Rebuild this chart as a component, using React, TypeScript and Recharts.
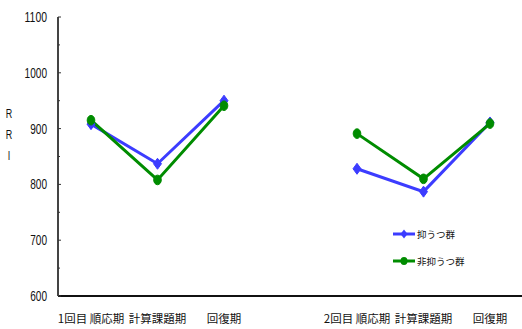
import React from "react";
import { LineChart, Line, XAxis, YAxis } from "recharts";

// Phases of the two sessions; the empty slot separates session 1 from session 2
const categories = ["1回目 順応期", "計算課題期", "回復期", "", "2回目 順応期", "計算課題期", "回復期"];
// Mean RRI per phase
const depressed = [908, 837, 950, null, 828, 787, 911];
const nonDepressed = [915, 808, 941, null, 891, 810, 909];
const yTicks = [600, 650, 700, 750, 800, 850, 900, 950, 1000, 1050, 1100];
const seriesNames = ["抑うつ群", "非抑うつ群"];

const BLUE = "#3c3cff";
const GREEN = "#008c00";
const NUM_FONT = "'Liberation Sans Narrow', 'Liberation Sans', Arial, sans-serif";
const JP_FONT = "'Noto Sans CJK JP', 'Noto Sans', sans-serif";

const data = categories.map((c, i) => ({ name: c, dep: depressed[i], non: nonDepressed[i] }));

const Diamond = (props: any) => {
  const { cx, cy } = props;
  if (cx == null || cy == null || props.value == null) return null;
  return <path d={`M${cx},${cy - 5.5} L${cx + 4},${cy} L${cx},${cy + 5.5} L${cx - 4},${cy} Z`} fill={BLUE} stroke={BLUE} />;
};

const Oval = (props: any) => {
  const { cx, cy } = props;
  if (cx == null || cy == null || props.value == null) return null;
  return <ellipse cx={cx} cy={cy} rx={3.8} ry={4.8} fill={GREEN} stroke={GREEN} />;
};

const YTick = (props: any) => {
  const { y, payload } = props;
  const v = payload.value;
  const major = v % 100 === 0;
  const axisX = 58;
  const label = String(v);
  return (
    <g>
      <line x1={axisX} x2={axisX + (major ? 3 : 2)} y1={y} y2={y} stroke="#333" strokeWidth={1} />
      {major && (
        <text
          x={47}
          y={y}
          dy={5}
          textAnchor="end"
          fontSize={14.5}
          fontFamily={NUM_FONT}
          fill="#111"
          textLength={label.length * 5.6}
          lengthAdjust="spacingAndGlyphs"
        >
          {label}
        </text>
      )}
    </g>
  );
};

const XTick = (props: any) => {
  const { x, y, payload } = props;
  return (
    <text x={x} y={y} dy={19} textAnchor="middle" fontSize={11.5} fontFamily={JP_FONT} fill="#111">
      {payload.value}
    </text>
  );
};

const LegendBox = () => {
  const rows = [
    { name: seriesNames[0], color: BLUE, marker: "diamond" },
    { name: seriesNames[1], color: GREEN, marker: "oval" },
  ];
  return (
    <svg width={80} height={45} style={{ position: "absolute", left: 393, top: 228 }}>
      {rows.map((r, i) => {
        const cy = 6 + i * 27;
        return (
          <g key={r.name}>
            <line x1={0} x2={22} y1={cy} y2={cy} stroke={r.color} strokeWidth={3} />
            {r.marker === "diamond" ? (
              <path d={`M11,${cy - 4.5} L14.5,${cy} L11,${cy + 4.5} L7.5,${cy} Z`} fill={r.color} />
            ) : (
              <ellipse cx={11} cy={cy} rx={3.5} ry={4} fill={r.color} />
            )}
            <text x={24} y={cy} dy={3.5} fontSize={9.5} fontFamily={JP_FONT} fill="#111">
              {r.name}
            </text>
          </g>
        );
      })}
    </svg>
  );
};

const AxisTitle = () => {
  const letters = ["R", "R", "I"];
  return (
    <g>
      {letters.map((l, i) => (
        <text
          key={i}
          x={9}
          y={113 + i * 21}
          dy={4.5}
          textAnchor="middle"
          fontSize={12.5}
          fontFamily={NUM_FONT}
          fill="#111"
          textLength={l === "I" ? 2.5 : 6.5}
          lengthAdjust="spacingAndGlyphs"
        >
          {l}
        </text>
      ))}
    </g>
  );
};

export default function App() {
  return (
    <div style={{ position: "absolute", left: 0, top: 0, width: 522, height: 329, overflow: "hidden", background: "#fff" }}>
      <LineChart width={523} height={329} data={data} margin={{ top: 17, right: 0, bottom: 0, left: 0 }}>
        <XAxis
          dataKey="name"
          interval={0}
          tickLine={false}
          axisLine={{ stroke: "#111", strokeWidth: 2 }}
          tick={<XTick />}
          height={33}
          padding={{ left: 33, right: 33 }}
        />
        <YAxis
          domain={[600, 1100]}
          ticks={yTicks}
          interval={0}
          width={58}
          tickLine={false}
          axisLine={{ stroke: "#444", strokeWidth: 2 }}
          tick={<YTick />}
          label={<AxisTitle />}
        />
        <Line
          dataKey="dep"
          name={seriesNames[0]}
          stroke={BLUE}
          strokeWidth={3}
          dot={<Diamond />}
          activeDot={false}
          connectNulls={false}
          isAnimationActive={false}
        />
        <Line
          dataKey="non"
          name={seriesNames[1]}
          stroke={GREEN}
          strokeWidth={3}
          dot={<Oval />}
          activeDot={false}
          connectNulls={false}
          isAnimationActive={false}
        />
      </LineChart>
      <LegendBox />
    </div>
  );
}
